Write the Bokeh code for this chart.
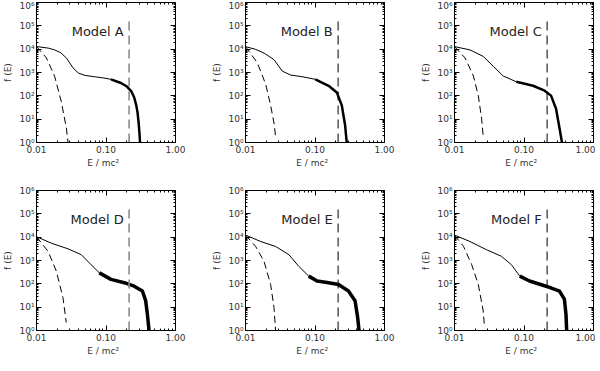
from bokeh.plotting import figure
from bokeh.layouts import gridplot
from bokeh.models import FixedTicker, LogAxis, Label
from bokeh.embed import file_html
from bokeh.resources import INLINE

# ---------------- data ----------------
models = ["A", "B", "C", "D", "E", "F"]

E_A = [0.0100, 0.0150, 0.0182, 0.0224, 0.0269, 0.0334, 0.0400, 0.0500, 0.0681, 0.0900, 0.118, 0.164, 0.200, 0.230, 0.254, 0.272, 0.284, 0.295, 0.303, 0.309]
f_A = [13000, 11000, 9300, 7000, 4200, 1600, 950, 750, 660, 590, 510, 355, 250, 160, 87, 40, 20, 7, 2.5, 1.0]
Ed_A = [0.0100, 0.0139, 0.0182, 0.0228, 0.0269, 0.0284]
fd_A = [13000, 4200, 700, 54, 4.2, 1.0]

E_B = [0.0100, 0.0140, 0.0185, 0.0257, 0.0338, 0.0444, 0.0652, 0.101, 0.157, 0.206, 0.243, 0.271, 0.286]
f_B = [12900, 9800, 6800, 3550, 1150, 780, 660, 510, 270, 140, 39, 5.6, 1.0]
Ed_B = [0.0100, 0.0148, 0.0195, 0.0230, 0.0257, 0.0271]
fd_B = [12900, 2600, 316, 39, 6.8, 1.8]

E_C = [0.0100, 0.0167, 0.0259, 0.0361, 0.0501, 0.0776, 0.135, 0.198, 0.245, 0.289, 0.324, 0.352]
f_C = [12900, 9300, 4900, 1860, 710, 400, 270, 166, 102, 28, 4.2, 1.0]
Ed_C = [0.0100, 0.0142, 0.0187, 0.0220, 0.0245, 0.0259]
fd_C = [12900, 4200, 710, 102, 11, 1.8]

E_D = [0.0100, 0.0164, 0.0284, 0.0440, 0.0611, 0.0802, 0.118, 0.183, 0.254, 0.334, 0.372, 0.394, 0.416]
f_D = [10500, 5500, 3160, 1780, 660, 295, 155, 112, 79, 49, 19, 5, 1.0]
Ed_D = [0.0100, 0.0147, 0.0193, 0.0240, 0.0268]
fd_D = [10500, 2450, 350, 26, 2.2]

E_E = [0.0100, 0.0166, 0.0271, 0.0421, 0.0585, 0.0813, 0.107, 0.157, 0.218, 0.303, 0.377, 0.411, 0.430]
f_E = [12300, 6500, 4000, 1780, 560, 214, 132, 112, 93, 49, 19, 3.6, 1.0]
Ed_E = [0.0100, 0.0140, 0.0185, 0.0230, 0.0257, 0.0271]
fd_E = [12300, 4000, 910, 93, 9.8, 1.0]

E_F = [0.0100, 0.0167, 0.0289, 0.0474, 0.0659, 0.0869, 0.120, 0.208, 0.324, 0.381, 0.402, 0.411]
f_F = [12300, 6500, 2900, 1510, 660, 214, 132, 79, 49, 22, 5, 1.0]
Ed_F = [0.0100, 0.0135, 0.0177, 0.0220, 0.0259, 0.0268]
fd_F = [12300, 4000, 660, 93, 6.9, 1.9]

# energy where the curve becomes noisy / thick
noisy_from = [0.12, 0.12, 0.13, 0.10, 0.10, 0.10]
E_mark = 0.215            # vertical dashed line
mark_top = 2.5e5

x_ticks = [0.01, 0.1, 1.0]
x_tick_labels = ["0.01", "0.10", "1.00"]
y_ticks = [1, 10, 100, 1000, 10000, 100000, 1000000]
y_tick_labels = ["10\u2070", "10\u00b9", "10\u00b2", "10\u00b3", "10\u2074", "10\u2075", "10\u2076"]

solid = [(E_A, f_A), (E_B, f_B), (E_C, f_C), (E_D, f_D), (E_E, f_E), (E_F, f_F)]
dashed = [(Ed_A, fd_A), (Ed_B, fd_B), (Ed_C, fd_C), (Ed_D, fd_D), (Ed_E, fd_E), (Ed_F, fd_F)]

# ---------------- styling ----------------
FONT = "DejaVu Sans"
x_minor = [m * d for d in (0.01, 0.1) for m in range(2, 10)]
y_minor = [m * 10 ** k for k in range(0, 6) for m in range(2, 10)]


def style_axis(ax, labels=True):
    ax.axis_line_color = "black"
    ax.major_tick_in = 5
    ax.major_tick_out = 0
    ax.minor_tick_in = 2
    ax.minor_tick_out = 0
    ax.major_tick_line_color = "black"
    ax.minor_tick_line_color = "black"
    ax.major_label_text_font = FONT
    ax.major_label_text_font_size = "9px" if labels else "1px"
    ax.major_label_text_color = "#333333"
    if not labels:
        ax.major_label_text_alpha = 0
    ax.axis_label_text_font = FONT
    ax.axis_label_text_font_size = "9px"
    ax.axis_label_text_font_style = "normal"
    ax.axis_label_text_color = "#333333"


def make_panel(i):
    row, col = divmod(i, 3)
    p = figure(
        x_axis_type="log", y_axis_type="log",
        x_range=(0.01, 1.0), y_range=(1.0, 1e6),
        frame_width=139, frame_height=140,
        min_border_left=32,
        min_border_right=2 if col == 2 else 34,
        min_border_top=2 if row == 0 else 20,
        min_border_bottom=26,
        output_backend="svg", toolbar_location=None,
    )
    p.xgrid.visible = False
    p.ygrid.visible = False
    p.outline_line_color = "black"
    p.background_fill_color = "white"
    p.border_fill_color = "white"

    p.xaxis.ticker = FixedTicker(ticks=x_ticks, minor_ticks=x_minor)
    p.yaxis.ticker = FixedTicker(ticks=y_ticks, minor_ticks=y_minor)
    p.xaxis.major_label_overrides = dict(zip(x_ticks, x_tick_labels))
    p.yaxis.major_label_overrides = dict(zip(y_ticks, y_tick_labels))
    p.xaxis.axis_label = "E  /  mc\u00b2"
    p.yaxis.axis_label = "f (E)"
    style_axis(p.xaxis[0])
    style_axis(p.yaxis[0])
    p.xaxis.major_label_standoff = 3
    p.yaxis.major_label_standoff = 2
    p.xaxis.axis_label_standoff = 2
    p.yaxis.axis_label_standoff = 3

    top = LogAxis(ticker=FixedTicker(ticks=x_ticks, minor_ticks=x_minor), major_label_standoff=0)
    right = LogAxis(ticker=FixedTicker(ticks=y_ticks, minor_ticks=y_minor), major_label_standoff=0)
    style_axis(top, labels=False)
    style_axis(right, labels=False)
    p.add_layout(top, "above")
    p.add_layout(right, "right")

    E, f = solid[i]
    Ed, fd = dashed[i]
    p.line(Ed, fd, line_color="black", line_width=1, line_dash="7 4")
    p.line(E, f, line_color="black", line_width=1)
    k = next(j for j, e in enumerate(E) if e >= noisy_from[i])
    p.line(E[k - 1:], f[k - 1:], line_color="black",
           line_width=2.5 if row == 0 else 3.5, line_join="round")

    gray = i in (0, 3)
    p.line([E_mark, E_mark], [1.0, mark_top],
           line_color="#8a8a8a" if gray else "black",
           line_width=1.6 if gray else 1, line_dash="9 5")

    p.add_layout(Label(x=0.18, y=6e4, text="Model " + models[i],
                       text_align="right", text_baseline="middle",
                       text_font="DejaVu Sans", text_font_size="13px",
                       text_color="#222222"))
    return p


panels = [make_panel(i) for i in range(6)]
grid = gridplot([panels[:3], panels[3:]], toolbar_location=None)

open("out.html", "w").write(file_html(grid, INLINE))
